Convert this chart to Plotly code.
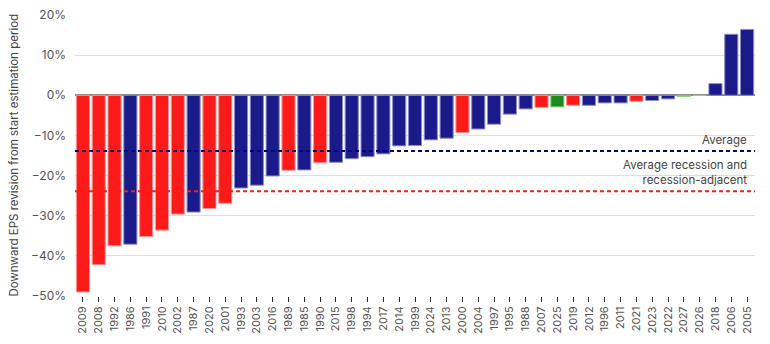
import plotly.graph_objects as go

years = ["2009", "2008", "1992", "1986", "1991", "2010", "2002", "1987", "2020", "2001",
         "1993", "2003", "2016", "1989", "1985", "1990", "2015", "1998", "1994", "2017",
         "2014", "1999", "2024", "2013", "2000", "2004", "1997", "1995", "1988", "2007",
         "2025", "2019", "2012", "1996", "2011", "2021", "2023", "2022", "2027", "2026",
         "2018", "2006", "2005"]
revision = [-49.0, -42.2, -37.5, -37.1, -35.2, -33.6, -29.6, -29.1, -28.2, -26.9,
            -23.1, -22.4, -20.1, -18.7, -18.6, -16.8, -16.7, -15.8, -15.3, -14.6,
            -12.6, -12.5, -11.1, -10.7, -9.3, -8.4, -7.2, -4.7, -3.4, -3.0,
            -2.9, -2.5, -2.5, -1.9, -1.9, -1.5, -1.3, -0.9, -0.3, 0.0,
            2.9, 15.2, 16.4]
# R = recession / recession-adjacent, N = other, F = forecast
group = ["R", "R", "R", "N", "R", "R", "R", "N", "R", "R",
         "N", "N", "N", "R", "N", "R", "N", "N", "N", "N",
         "N", "N", "N", "N", "R", "N", "N", "N", "N", "R",
         "F", "R", "N", "N", "N", "R", "N", "N", "F", "F",
         "N", "N", "N"]
average_all = -13.9
average_recession = -23.9

fill = {"R": "rgb(255,26,26)", "N": "rgb(26,26,138)", "F": "rgb(30,138,30)"}
edge = {"R": "rgb(255,150,150)", "N": "rgb(140,140,200)", "F": "rgb(140,210,140)"}

fig = go.Figure()
fig.add_trace(go.Bar(
    x=years, y=revision,
    marker=dict(color=[fill[g] for g in group],
                line=dict(color=[edge[g] for g in group], width=1)),
    showlegend=False,
))

fig.add_hline(y=average_all, line=dict(color="rgb(0,0,128)", width=2, dash="4px,3px"))
fig.add_hline(y=average_recession, line=dict(color="rgb(255,26,26)", width=2, dash="4px,3px"))

font_family = "Inter, Roboto, 'Open Sans', sans-serif"
fig.add_annotation(x=0.991, xref="paper", y=average_all, yref="y", text="Average",
                   showarrow=False, xanchor="right", yanchor="bottom", yshift=2,
                   font=dict(size=11.5, color="#444", family=font_family))
fig.add_annotation(x=0.991, xref="paper", y=average_recession, yref="y",
                   text="Average recession and<br>recession-adjacent", align="right",
                   showarrow=False, xanchor="right", yanchor="bottom", yshift=2,
                   font=dict(size=11.5, color="#444", family=font_family))
fig.add_annotation(x=-0.091, xref="paper", y=0.5, yref="paper",
                   text="Downward EPS revision from start estimation period",
                   textangle=-90, showarrow=False, xanchor="center", yanchor="middle",
                   font=dict(size=11.5, color="#444", family=font_family))

fig.update_layout(
    width=770, height=344,
    margin=dict(l=75, r=15, t=15, b=48, autoexpand=False),
    plot_bgcolor="white", paper_bgcolor="white",
    bargap=0.17,
    font=dict(family=font_family, color="#555"),
)
fig.update_xaxes(type="category", ticks="outside", ticklen=5, tickcolor="#333",
                 tickangle=-90, tickfont=dict(size=11, color="#555"),
                 showgrid=False, showline=False, automargin=False)
fig.update_yaxes(range=[-50, 20], dtick=10, ticksuffix="%", showgrid=True,
                 gridcolor="#dedede", gridwidth=1, zeroline=True,
                 zerolinecolor="#8c8c8c", zerolinewidth=2,
                 tickfont=dict(size=12, color="#555"), ticklabelstandoff=8,
                 automargin=False)

fig.write_html("out.html")
